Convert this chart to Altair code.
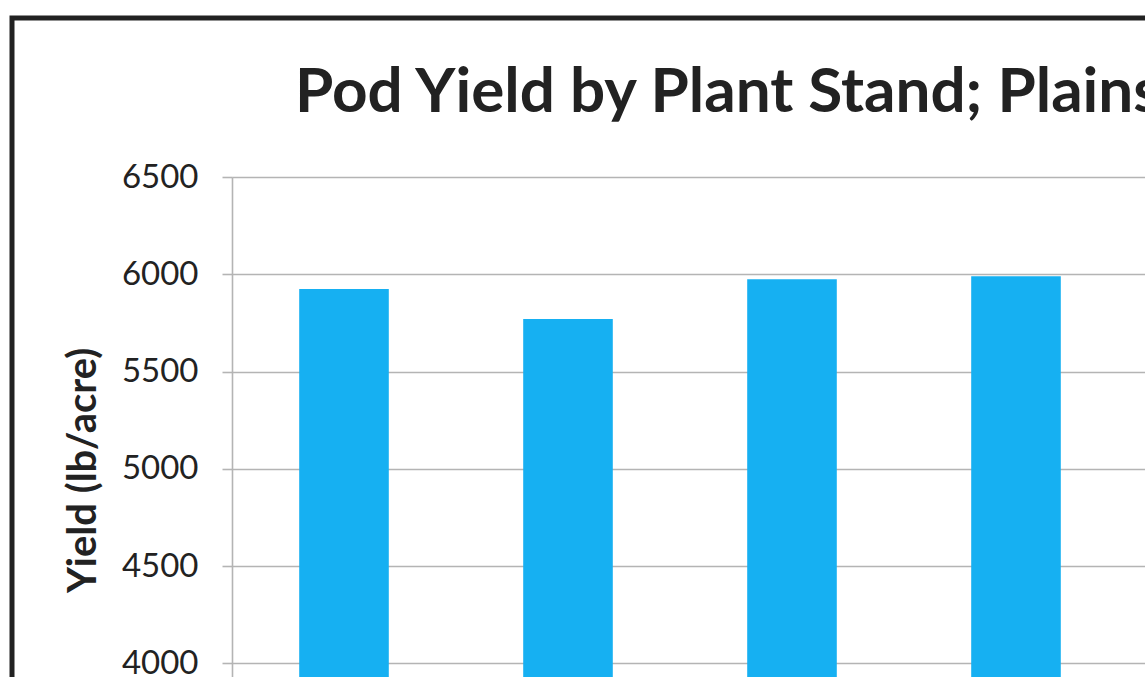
import altair as alt
import pandas as pd

# Data
stands = ["Stand 1", "Stand 2", "Stand 3", "Stand 4", "Stand 5"]
yields = [5925, 5770, 5975, 5990]
y_ticks = [4000, 4500, 5000, 5500, 6000, 6500]
title_text = "Pod Yield by Plant Stand; Plains"
y_title = "Yield (lb/acre)"

df = pd.DataFrame({"stand": stands[:len(yields)], "yield": yields})

FONT = "Lato"

bars = alt.Chart(df).mark_bar(color="#16b0f2").encode(
    x=alt.X("stand:N", sort=stands,
            scale=alt.Scale(domain=stands, paddingInner=0.6, paddingOuter=0.3,
                            range=[0, 1120]),
            axis=alt.Axis(title=None, labels=False, ticks=False, domain=False, grid=False)),
    y=alt.Y("yield:Q",
            scale=alt.Scale(domain=[3000, 6500], nice=False, zero=False,
                            range=[681, 0]),
            axis=alt.Axis(values=y_ticks, title=y_title, grid=True,
                          gridColor="#b4b4b4", gridWidth=1.6,
                          domainColor="#b4b4b4", domainWidth=1.6,
                          tickColor="#b4b4b4", tickWidth=1.6, tickSize=10,
                          labelFont=FONT, labelFontSize=33, labelColor="#222222",
                          labelPadding=24, format="d",
                          titleFont=FONT, titleFontSize=40, titleFontWeight="bold",
                          titleColor="#222222", titleAngle=270,
                          titleX=-149, titleY=293, titleAlign="center",
                          titleBaseline="middle")),
)

border = alt.Chart(pd.DataFrame({"a": [0]})).mark_rect(
    fill=None, stroke="#222222", strokeWidth=5
).encode(
    x=alt.value(-220), x2=alt.value(2000),
    y=alt.value(-159), y2=alt.value(2000),
)

chart = alt.layer(bars, border).properties(
    width=913, height=500,
    title=alt.TitleParams(title_text, anchor="start", frame="group", dx=63,
                          offset=0, dy=158, baseline="alphabetic",
                          font=FONT, fontSize=62, fontWeight="bold", color="#222222"),
    autosize=alt.AutoSizeParams(type="none"),
    padding={"left": 232, "top": 177, "right": 0, "bottom": 0},
).configure_view(stroke=None).configure(background="white")

chart.save("out.html", embed_options={"renderer": "svg", "actions": False})
